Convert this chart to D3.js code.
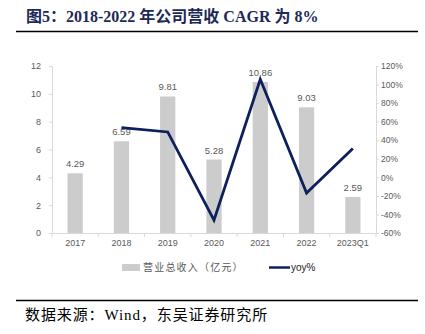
<!DOCTYPE html>
<html><head><meta charset="utf-8">
<script src="https://cdn.jsdelivr.net/npm/d3@7"></script>
<style>body{margin:0;background:#fff;} svg{display:block;}</style>
</head><body>
<svg id="c" width="425" height="334"></svg>
<script>
const categories = ["2017","2018","2019","2020","2021","2022","2023Q1"];
const revenue = [4.29, 6.59, 9.81, 5.28, 10.86, 9.03, 2.59];
const yoy = [null, 53.6, 48.9, -46.2, 105.7, -16.9, 31];
const leftTicks = [0,2,4,6,8,10,12];
const rightTicks = [-60,-40,-20,0,20,40,60,80,100,120];

const svg = d3.select("#c");
const L = 52, R = 376, T = 66, B = 233;
const x = d3.scaleBand().domain(categories).range([L, R]).paddingInner(0.67).paddingOuter(0.335);
const yL = d3.scaleLinear().domain([0,12]).range([B, T]);
const yR = d3.scaleLinear().domain([-60,120]).range([B, T]);

// title
svg.append("text").attr("x", 26).attr("y", 22)
  .attr("font-family", "'Liberation Serif','Noto Sans CJK SC',serif")
  .attr("font-weight", "bold").attr("font-size", 16).attr("fill", "#1c2a55")
  .text("图5：2018-2022 年公司营收 CAGR 为 8%");
svg.append("line").attr("x1", 16).attr("x2", 418).attr("y1", 31.5).attr("y2", 31.5)
  .attr("stroke", "#000").attr("stroke-width", 1.5);
svg.append("line").attr("x1", 16).attr("x2", 418).attr("y1", 300.5).attr("y2", 300.5)
  .attr("stroke", "#000").attr("stroke-width", 1.5);
svg.append("text").attr("x", 25).attr("y", 320)
  .attr("font-family", "'Liberation Serif','Noto Sans CJK SC',serif")
  .attr("font-size", 15).attr("letter-spacing", 0.9).attr("fill", "#000")
  .text("数据来源：Wind，东吴证券研究所");

const axisColor = "#d9d9d9", textColor = "#595959";
function styleAxis(g){
  g.select(".domain").attr("stroke", axisColor);
  g.selectAll(".tick line").attr("stroke", axisColor);
  g.selectAll(".tick text").attr("fill", textColor).attr("font-size", 9)
    .attr("font-family", "'Liberation Sans',Arial,sans-serif");
}
const gL = svg.append("g").attr("transform", `translate(${L},0)`)
  .call(d3.axisLeft(yL).tickValues(leftTicks).tickSize(3).tickPadding(8).tickSizeOuter(0));
styleAxis(gL);
const gR = svg.append("g").attr("transform", `translate(${R},0)`)
  .call(d3.axisRight(yR).tickValues(rightTicks).tickSize(3).tickPadding(2).tickSizeOuter(0).tickFormat(d => d + "%"));
styleAxis(gR);
gR.selectAll(".tick text").attr("font-size", 8.5);
const gX = svg.append("g").attr("transform", `translate(0,${B})`)
  .call(d3.axisBottom(x).tickSize(0).tickPadding(7).tickSizeOuter(0));
styleAxis(gX);
// boundary ticks on x axis
const step = x.step();
svg.append("g").selectAll("line").data(d3.range(categories.length + 1)).join("line")
  .attr("x1", i => L + i * step).attr("x2", i => L + i * step)
  .attr("y1", B).attr("y2", B + 4).attr("stroke", axisColor);

// bars
svg.append("g").selectAll("rect").data(categories).join("rect")
  .attr("x", d => x(d)).attr("width", x.bandwidth())
  .attr("y", (d,i) => yL(revenue[i])).attr("height", (d,i) => B - yL(revenue[i]))
  .attr("fill", "#cccccc");
svg.append("g").selectAll("text").data(categories).join("text")
  .attr("x", d => x(d) + x.bandwidth()/2).attr("y", (d,i) => yL(revenue[i]) - 6)
  .attr("text-anchor", "middle").attr("font-size", 9.5).attr("fill", textColor)
  .attr("font-family", "'Liberation Sans',Arial,sans-serif")
  .text((d,i) => revenue[i].toFixed(2));

// line
const pts = categories.map((c,i) => [c, yoy[i]]).filter(p => p[1] !== null);
svg.append("path").datum(pts)
  .attr("d", d3.line().x(p => x(p[0]) + x.bandwidth()/2).y(p => yR(p[1])))
  .attr("fill", "none").attr("stroke", "#0d1f5c").attr("stroke-width", 2.8)
  .attr("stroke-linejoin", "miter");

// legend
const lg = svg.append("g");
lg.append("rect").attr("x", 122).attr("y", 264).attr("width", 18).attr("height", 7).attr("fill", "#cccccc");
lg.append("text").attr("x", 143).attr("y", 271).attr("font-size", 10).attr("letter-spacing", 1.2).attr("fill", textColor)
  .attr("font-family", "'Noto Sans CJK SC',sans-serif").text("营业总收入（亿元）");
lg.append("line").attr("x1", 269).attr("x2", 290).attr("y1", 267.5).attr("y2", 267.5)
  .attr("stroke", "#0d1f5c").attr("stroke-width", 2.5);
lg.append("text").attr("x", 291).attr("y", 271).attr("font-size", 10).attr("fill", "#222")
  .attr("font-family", "'Liberation Sans',Arial,sans-serif").text("yoy%");
</script>
</body></html>
